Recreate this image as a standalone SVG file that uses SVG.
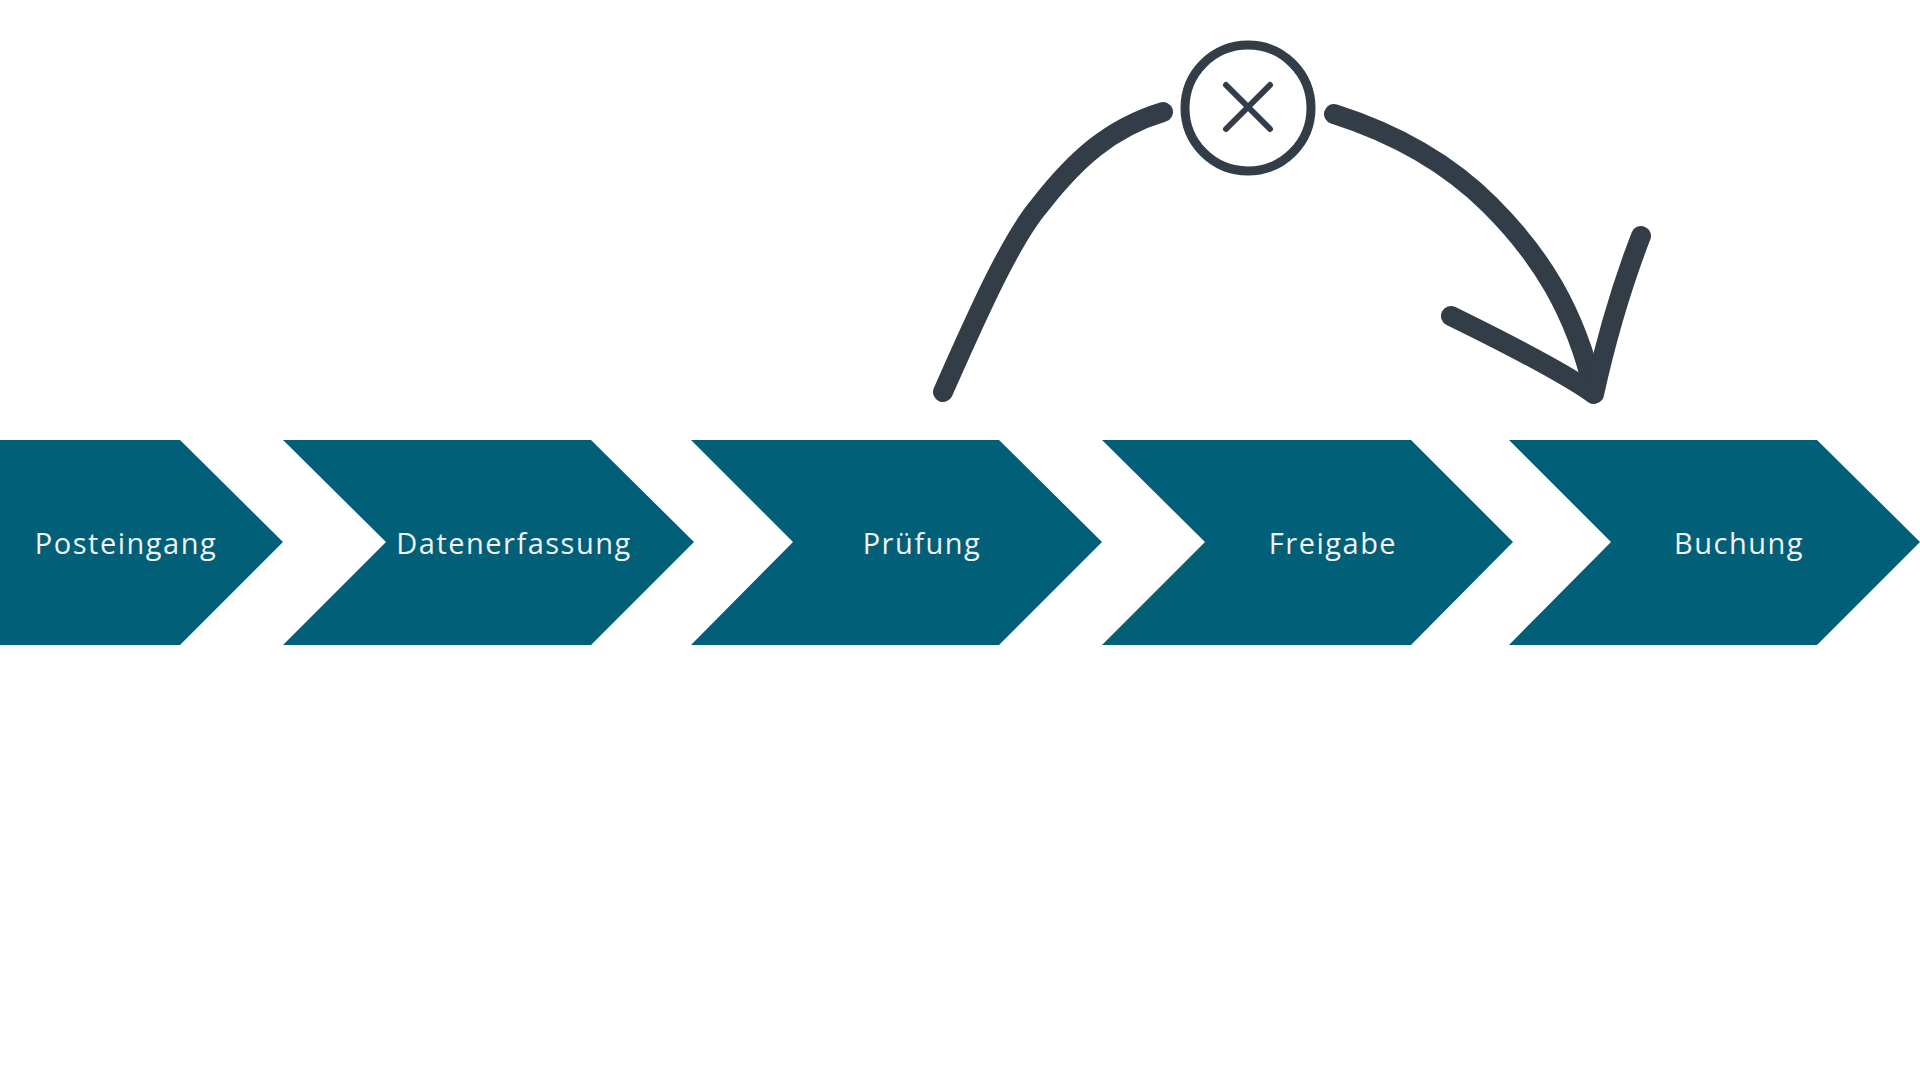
<svg xmlns="http://www.w3.org/2000/svg" width="1920" height="1080" viewBox="0 0 1920 1080">
<style>
.ch{fill:#025f78}
.t{font-family:"Open Sans","Liberation Sans",sans-serif;font-size:29px;letter-spacing:1.5px;fill:#f2f2f2;text-anchor:middle;dominant-baseline:central}
.ln{fill:none;stroke:#333d47;stroke-linecap:round;stroke-linejoin:round}
</style>
<rect width="1920" height="1080" fill="#fff"/>
<g id="posteingang"><polygon class="ch" points="0,440 180,440 283,542 180,645 0,645"/><text class="t" x="126" y="542">Posteingang</text></g>
<g id="datenerfassung"><polygon class="ch" points="283,440 591,440 694,542 591,645 283,645 386,542"/><text class="t" x="514" y="542">Datenerfassung</text></g>
<g id="pruefung"><polygon class="ch" points="691,440 999,440 1102,542 999,645 691,645 793,542"/><text class="t" x="922" y="542">Prüfung</text></g>
<g id="freigabe"><polygon class="ch" points="1102,440 1411,440 1513,542 1411,645 1102,645 1205,542"/><text class="t" x="1333" y="542">Freigabe</text></g>
<g id="buchung"><polygon class="ch" points="1509,440 1817,440 1920,542 1817,645 1509,645 1611,542"/><text class="t" x="1739" y="542">Buchung</text></g>
<g id="connectors">
<path class="ln" stroke-width="20" d="M943,392 C975,320 1010,240 1040,205 C1075,160 1110,128 1163,112"/>
<path class="ln" stroke-width="20" d="M1334,114 C1400,135 1450,165 1490,205 C1540,255 1575,310 1594,392"/>
<path class="ln" stroke-width="20" d="M1451,316 C1500,340 1560,370 1594,394 C1606,340 1620,290 1641,236"/>
</g>
<g id="reject">
<circle cx="1248" cy="108" r="63" fill="#fff" stroke="#333d47" stroke-width="9"/>
<path class="ln" stroke-width="6" d="M1226,85 L1270,129 M1270,85 L1226,129"/>
</g>
</svg>
